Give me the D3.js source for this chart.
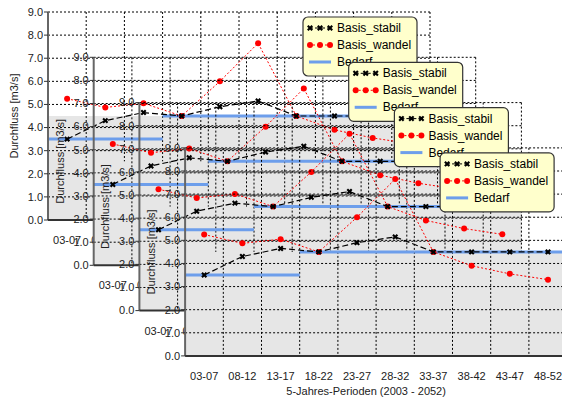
<!DOCTYPE html>
<html><head><meta charset="utf-8">
<script src="https://cdn.jsdelivr.net/npm/d3@7"></script>
<style>body{margin:0;background:#fff}svg{font-family:"Liberation Sans",Arial,sans-serif}</style>
</head><body><svg id="c" width="562" height="401"></svg>
<script>
'use strict';
const periods = ["03-07","08-12","13-17","18-22","23-27","28-32","33-37","38-42","43-47","48-52"];
const basisStabil = [3.5,4.3,4.65,4.5,4.9,5.15,4.5,4.5,4.5,4.5];
const basisWandel = [5.25,4.87,5.05,4.5,6.0,7.65,4.5,3.9,3.55,3.3];
const bedarf = [3.5,3.5,3.5,4.5,4.5,4.5,4.5,4.5,4.5,4.5];
const yTicks = [0,1,2,3,4,5,6,7,8,9];
const copies = 4;

const svg = d3.select("#c");
const W = 382, H = 208, DX = 45.7, DY = 45.3;

function drawChart(k) {
    const ox = 48 + k*DX, oy = 12 + k*DY;
    const g = svg.append("g").attr("transform", `translate(${ox},${oy})`);
    const x = d3.scaleBand().domain(periods).range([0, W]);
    const y = d3.scaleLinear().domain([0, 9]).range([H, 0]);

    g.append("rect").attr("x", 0).attr("width", W)
        .attr("y", y(4.5)).attr("height", H - y(4.5)).attr("fill", "#e6e6e6");

    // grid
    g.selectAll(".hg").data(yTicks.slice(1)).enter().append("line")
        .attr("x1", 0).attr("x2", W).attr("y1", d => y(d)).attr("y2", d => y(d))
        .attr("stroke", "#000").attr("stroke-dasharray", "2,2").attr("stroke-width", 1);
    g.selectAll(".vg").data(periods.slice(1)).enter().append("line")
        .attr("x1", d => x(d)).attr("x2", d => x(d)).attr("y1", 0).attr("y2", H)
        .attr("stroke", "#000").attr("stroke-dasharray", "2,2").attr("stroke-width", 1);
    g.append("line").attr("x1", W).attr("x2", W).attr("y1", 0).attr("y2", H)
        .attr("stroke", "#000").attr("stroke-dasharray", "2,2");

    // bedarf
    g.selectAll(".bd").data(bedarf).enter().append("line")
        .attr("x1", (d, i) => x(periods[i])).attr("x2", (d, i) => x(periods[i]) + x.bandwidth())
        .attr("y1", d => y(d)).attr("y2", d => y(d))
        .attr("stroke", "#6d9eeb").attr("stroke-width", 3);

    const cx = i => x(periods[i]) + x.bandwidth()/2;
    const line = d3.line().x((d, i) => cx(i)).y(d => y(d));
    g.append("path").attr("d", line(basisWandel)).attr("fill", "none")
        .attr("stroke", "#ff0000").attr("stroke-width", 1).attr("stroke-dasharray", "2,2");
    g.selectAll(".wd").data(basisWandel).enter().append("circle")
        .attr("cx", (d, i) => cx(i)).attr("cy", d => y(d)).attr("r", 3).attr("fill", "#ff0000");
    g.append("path").attr("d", line(basisStabil)).attr("fill", "none")
        .attr("stroke", "#000").attr("stroke-width", 1.2).attr("stroke-dasharray", "6,3");
    g.selectAll(".st").data(basisStabil).enter().append("path")
        .attr("transform", (d, i) => `translate(${cx(i)},${y(d)}) rotate(45)`)
        .attr("d", d3.symbol(d3.symbolCross, 22)).attr("fill", "#000");

    // axes
    g.append("line").attr("x1", 0).attr("x2", 0).attr("y1", 0).attr("y2", H)
        .attr("stroke", "#666").attr("stroke-width", 2);
    g.append("line").attr("x1", 0).attr("x2", W).attr("y1", H).attr("y2", H)
        .attr("stroke", "#333").attr("stroke-width", 2);
    g.selectAll(".yt").data(yTicks).enter().append("text")
        .attr("x", -5).attr("y", d => y(d)).attr("dy", "0.35em").attr("text-anchor", "end")
        .attr("font-size", 11).attr("fill", "#222").text(d => d.toFixed(1));
    g.selectAll(".ytk").data(yTicks).enter().append("line")
        .attr("x1", -4).attr("x2", 0).attr("y1", d => y(d)).attr("y2", d => y(d)).attr("stroke", "#333");
    g.selectAll(".xt").data(periods).enter().append("text")
        .attr("x", d => x(d) + x.bandwidth()/2).attr("y", H + 24).attr("text-anchor", "middle")
        .attr("font-size", 11).attr("fill", "#222").text(d => d);
    g.append("text").attr("transform", `translate(-30,${H/2}) rotate(-90)`)
        .attr("text-anchor", "middle").attr("font-size", 11).attr("fill", "#222")
        .text("Durchfluss [m3/s]");
    if (k === copies - 1) {
        g.append("text").attr("x", W/2 - 10).attr("y", H + 39).attr("text-anchor", "middle")
            .attr("font-size", 11).attr("fill", "#222").text("5-Jahres-Perioden (2003 - 2052)");
    }
}

function drawLegend(k) {
    const lg = svg.append("g").attr("transform", `translate(${303 + k*DX},${17 + k*DY})`);
    lg.append("rect").attr("width", 114).attr("height", 59).attr("rx", 5)
        .attr("fill", "#ffffcc").attr("stroke", "#333").attr("stroke-width", 1.2);
    const names = ["Basis_stabil", "Basis_wandel", "Bedarf"];
    names.forEach((n, i) => {
        const yy = 11 + i*17;
        if (i === 0) {
            lg.append("line").attr("x1", 6).attr("x2", 28).attr("y1", yy).attr("y2", yy)
                .attr("stroke", "#000").attr("stroke-dasharray", "4,2");
            [7, 17, 27].forEach(px => lg.append("path")
                .attr("transform", `translate(${px},${yy}) rotate(45)`)
                .attr("d", d3.symbol(d3.symbolCross, 22)).attr("fill", "#000"));
        } else if (i === 1) {
            lg.append("line").attr("x1", 6).attr("x2", 28).attr("y1", yy).attr("y2", yy)
                .attr("stroke", "#f00").attr("stroke-dasharray", "2,2");
            [7, 17, 27].forEach(px => lg.append("circle").attr("cx", px).attr("cy", yy)
                .attr("r", 3).attr("fill", "#f00"));
        } else {
            lg.append("line").attr("x1", 6).attr("x2", 28).attr("y1", yy).attr("y2", yy)
                .attr("stroke", "#6d9eeb").attr("stroke-width", 3);
        }
        lg.append("text").attr("x", 34).attr("y", yy).attr("dy", "0.35em")
            .attr("font-size", 12).attr("fill", "#000").text(n);
    });
}

for (let k = 0; k < copies; k++) drawChart(k);
for (let k = 0; k < copies; k++) drawLegend(k);
</script></body></html>
